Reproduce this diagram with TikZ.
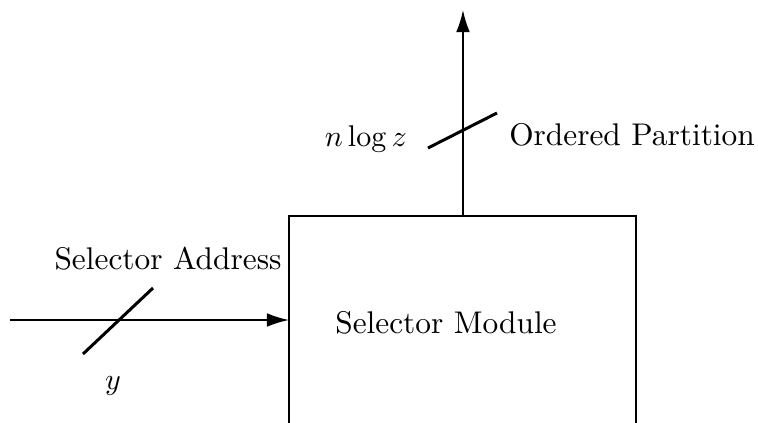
\documentclass[tikz,border=0pt]{standalone}
\usetikzlibrary{arrows.meta}
\begin{document}
\begin{tikzpicture}[x=0.3333pt,y=-0.3333pt,
  wire/.style={line width=0.6pt},
  sig/.style={wire,-{Latex[length=7.4pt,width=4.6pt]}},
  busmark/.style={line width=1pt},
  lbl/.style={inner sep=0pt,font=\fontsize{10.45}{12.5}\selectfont}]
\useasboundingbox (0,0) rectangle (758,423);
% module outline, open at the bottom
\coordinate (bl) at (289,423);
\coordinate (tl) at (289,216);
\coordinate (tr) at (636,216);
\coordinate (br) at (636,423);
\draw[wire] (bl) -- (tl) -- (tr) -- (br);
\node[lbl] (mod) at (446,323) {Selector Module};
% output bus
\coordinate (outbase) at (463,216);
\coordinate (outtip) at (463,10);
\draw[sig] (outbase) -- (outtip);
\coordinate (os1) at (428,148);
\coordinate (os2) at (497,113);
\draw[busmark] (os1) -- (os2);
\node[lbl] (ow) at (366,139) {$n\log z$};
\node[lbl] (op) at (632,135) {Ordered Partition};
% input bus
\coordinate (instart) at (10,320);
\coordinate (inend) at (289,320);
\draw[sig] (instart) -- (inend);
\coordinate (is1) at (83,354);
\coordinate (is2) at (153,288);
\draw[busmark] (is1) -- (is2);
\node[lbl] (ia) at (168,259) {Selector Address};
\node[lbl] (iw) at (113,386) {$y$};
\end{tikzpicture}
\end{document}
